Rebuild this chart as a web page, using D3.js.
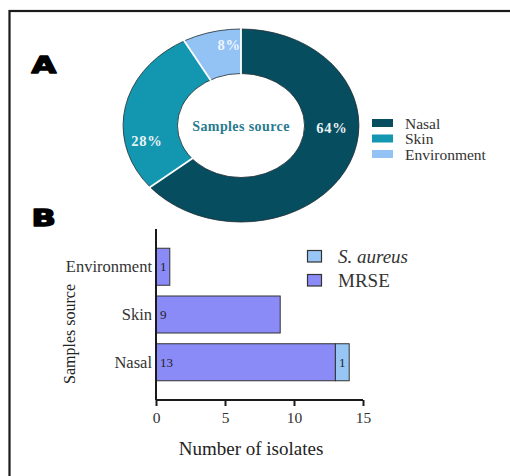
<!DOCTYPE html>
<html>
<head>
<meta charset="utf-8">
<script src="https://cdn.jsdelivr.net/npm/d3@7"></script>
<style>
  html, body { margin: 0; padding: 0; background: #fff; }
  svg { display: block; }
  .serif { font-family: "Liberation Serif", "Times New Roman", serif; }
</style>
</head>
<body>
<svg id="fig" width="510" height="476"></svg>
<script>
// ---- Panel A: sample sources (share, %) ----
const sources = ["Nasal", "Skin", "Environment"];
const sourceShare = [64, 28, 8];
const sourceColors = ["#064d60", "#1397b1", "#93c2f5"];

// ---- Panel B: isolates per source ----
const barCategories = ["Environment", "Skin", "Nasal"];
const mrseCounts = [1, 9, 13];
const aureusCounts = [0, 0, 1];
const organisms = ["S. aureus", "MRSE"];
const organismColors = ["#97c6f5", "#8b8bf8"];
const xTicks = [0, 5, 10, 15];

const svg = d3.select("#fig");

// frame around both panels
svg.append("rect")
  .attr("x", 9.5).attr("y", 11).attr("width", 520).attr("height", 480)
  .attr("fill", "none").attr("stroke", "#1a1a1a").attr("stroke-width", 2.2);

// panel letters
[["A", 72.5], ["B", 225.5]].forEach(([t, yPos]) => {
  svg.append("text")
    .attr("transform", `translate(31.5,${yPos}) scale(1.36,1)`)
    .attr("font-family", "DejaVu Sans").attr("font-weight", 900)
    .attr("font-size", 23.5).attr("fill", "#000")
    .attr("stroke", "#000").attr("stroke-width", 1.4).attr("stroke-linejoin", "round")
    .text(t);
});

// ---------- donut ----------
const cx = 241, cy = 125.5, rOuter = 96.5, rInner = 52, sx = 1.222;
const pie = d3.pie().sort(null).value(d => d)(sourceShare);
const arc = d3.arc().innerRadius(rInner).outerRadius(rOuter);

const ring = svg.append("g").attr("transform", `translate(${cx},${cy}) scale(${sx},1)`);
ring.selectAll("path.slice").data(pie).join("path")
  .attr("class", "slice")
  .attr("d", arc)
  .attr("fill", (d, i) => sourceColors[i]);

// thin dark rim on both edges
[rOuter, rInner].forEach(r => {
  ring.append("circle").attr("r", r)
    .attr("fill", "none").attr("stroke", "#1d2b30")
    .attr("stroke-width", 0.8).attr("vector-effect", "non-scaling-stroke");
});

// white separators at slice boundaries
ring.selectAll("line.sep").data(pie).join("line")
  .attr("class", "sep")
  .attr("x1", d => Math.sin(d.startAngle) * (rInner - 1))
  .attr("y1", d => -Math.cos(d.startAngle) * (rInner - 1))
  .attr("x2", d => Math.sin(d.startAngle) * (rOuter + 1))
  .attr("y2", d => -Math.cos(d.startAngle) * (rOuter + 1))
  .attr("stroke", "#fff").attr("stroke-width", 1.8)
  .attr("vector-effect", "non-scaling-stroke");

// percentage labels, placed along the ring (angle nudge in degrees, radius)
const labelNudge = [[-23, 74.5], [-22, 78.5], [7.5, 81]];
svg.append("g").selectAll("text").data(pie).join("text")
  .attr("class", "serif")
  .attr("x", (d, i) => {
    const a = (d.startAngle + d.endAngle) / 2 + labelNudge[i][0] * Math.PI / 180;
    return cx + Math.sin(a) * labelNudge[i][1] * sx;
  })
  .attr("y", (d, i) => {
    const a = (d.startAngle + d.endAngle) / 2 + labelNudge[i][0] * Math.PI / 180;
    return cy - Math.cos(a) * labelNudge[i][1];
  })
  .attr("text-anchor", "middle").attr("dominant-baseline", "central")
  .attr("font-weight", "bold").attr("font-size", 14.5)
  .attr("letter-spacing", 0.8)
  .attr("fill", (d, i) => i === 2 ? "#eef4ff" : "#eaf2f4")
  .text(d => d.data + "%");

svg.append("text").attr("class", "serif")
  .attr("x", cx).attr("y", cy + 1)
  .attr("text-anchor", "middle").attr("dominant-baseline", "central")
  .attr("font-weight", "bold").attr("font-size", 14).attr("letter-spacing", 0.4)
  .attr("fill", "#2a7a90")
  .text("Samples source");

// legend for the donut
const legA = svg.append("g").attr("transform", "translate(372,119)");
sources.forEach((s, i) => {
  const g = legA.append("g").attr("transform", `translate(0,${i * 15.5})`);
  g.append("rect").attr("width", 21).attr("height", 8).attr("fill", sourceColors[i]);
  g.append("text").attr("class", "serif")
    .attr("x", 33).attr("y", 4).attr("dominant-baseline", "central")
    .attr("font-size", 15.5).attr("fill", "#333")
    .text(s);
});

// ---------- stacked horizontal bars ----------
const x = d3.scaleLinear().domain([0, 15]).range([156, 363]);
const y = d3.scaleBand().domain(barCategories).range([229, 400])
  .paddingInner(0.225).paddingOuter(0.403);

const rows = barCategories.map((c, i) => ({ c, mrse: mrseCounts[i], aureus: aureusCounts[i] }));
const stack = d3.stack().keys(["mrse", "aureus"])(rows);
const stackColor = { mrse: organismColors[1], aureus: organismColors[0] };

const bars = svg.append("g");
stack.forEach(layer => {
  bars.selectAll(null).data(layer.filter(d => d[1] > d[0])).join("rect")
    .attr("x", d => x(d[0]))
    .attr("y", d => y(d.data.c))
    .attr("width", d => x(d[1]) - x(d[0]))
    .attr("height", y.bandwidth())
    .attr("fill", stackColor[layer.key])
    .attr("stroke", "#333").attr("stroke-width", 1);
});

// value labels: MRSE at bar start, S. aureus centred in its segment
const valueLabels = svg.append("g").attr("class", "serif")
  .attr("font-size", 13).attr("fill", "#222");
stack[0].forEach(d => {
  valueLabels.append("text")
    .attr("x", x(d[0]) + 4).attr("y", y(d.data.c) + y.bandwidth() / 2)
    .attr("dominant-baseline", "central")
    .text(d[1] - d[0]);
});
stack[1].filter(d => d[1] > d[0]).forEach(d => {
  valueLabels.append("text")
    .attr("x", (x(d[0]) + x(d[1])) / 2).attr("y", y(d.data.c) + y.bandwidth() / 2)
    .attr("text-anchor", "middle").attr("dominant-baseline", "central")
    .text(d[1] - d[0]);
});

// axes
const xAxis = svg.append("g").attr("transform", "translate(0,400)")
  .call(d3.axisBottom(x).tickValues(xTicks).tickSize(6).tickPadding(6).tickFormat(d3.format("d")));
xAxis.select(".domain").attr("stroke", "#1a1a1a").attr("stroke-width", 2).attr("d", "M156,0H363");
xAxis.selectAll(".tick line").attr("stroke", "#1a1a1a").attr("stroke-width", 2);
xAxis.selectAll(".tick text").attr("class", "serif")
  .attr("font-size", 15.5).attr("fill", "#333");

const yAxis = svg.append("g").attr("transform", "translate(156,0)")
  .call(d3.axisLeft(y).tickSize(0).tickPadding(4));
yAxis.select(".domain").attr("stroke", "#1a1a1a").attr("stroke-width", 2).attr("d", "M0,229V400");
yAxis.selectAll(".tick text").attr("class", "serif")
  .attr("font-size", 16.5).attr("fill", "#333");

svg.append("text").attr("class", "serif")
  .attr("x", 251).attr("y", 448).attr("text-anchor", "middle")
  .attr("dominant-baseline", "central")
  .attr("font-size", 19).attr("fill", "#222")
  .text("Number of isolates");

svg.append("text").attr("class", "serif")
  .attr("transform", "translate(69,334) rotate(-90)")
  .attr("text-anchor", "middle").attr("dominant-baseline", "central")
  .attr("font-size", 16).attr("fill", "#222")
  .text("Samples source");

// legend for the bars
const legB = svg.append("g").attr("transform", "translate(307,250)");
organisms.forEach((o, i) => {
  const g = legB.append("g").attr("transform", `translate(0,${i * 24})`);
  g.append("rect").attr("x", 0.5).attr("y", 0.5).attr("width", 14).attr("height", 11.5)
    .attr("fill", organismColors[i]).attr("stroke", "#333").attr("stroke-width", 1.2);
  g.append("text").attr("class", "serif")
    .attr("x", 31).attr("y", 6.5).attr("dominant-baseline", "central")
    .attr("font-size", 19).attr("fill", "#333")
    .attr("font-style", i === 0 ? "italic" : "normal")
    .text(o);
});
</script>
</body>
</html>
